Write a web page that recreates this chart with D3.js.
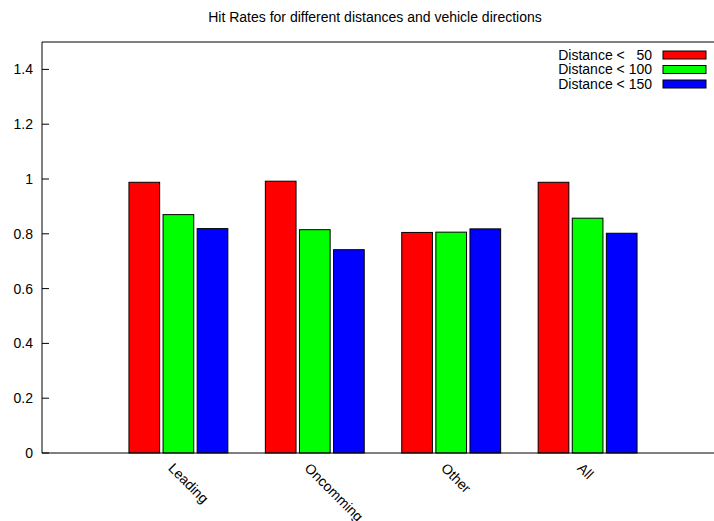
<!DOCTYPE html>
<html>
<head>
<meta charset="utf-8">
<script src="https://cdn.jsdelivr.net/npm/d3@7"></script>
<style>
  html, body { margin: 0; padding: 0; background: #fff; }
  svg { display: block; font-family: "Liberation Sans", Arial, sans-serif; }
</style>
</head>
<body>
<svg id="chart" width="714" height="521"></svg>
<script>
const categories = ["Leading", "Oncomming", "Other", "All"];
const seriesNames = ["Distance <   50", "Distance < 100", "Distance < 150"];
const seriesColors = ["#ff0000", "#00ff00", "#0000ff"];
const dist50 = [0.988, 0.992, 0.805, 0.988];
const dist100 = [0.870, 0.815, 0.806, 0.857];
const dist150 = [0.819, 0.742, 0.818, 0.802];
const yTicks = [0, 0.2, 0.4, 0.6, 0.8, 1, 1.2, 1.4];

const series = [dist50, dist100, dist150];
const fontSize = 14;

const svg = d3.select("#chart");
const margin = { top: 42, left: 42, bottom: 453 };

// histogram x positions: categories at 0..3, axis from -1 to 4 (right edge falls off the canvas)
const x = d3.scaleLinear().domain([-1, 4]).range([margin.left, 724]);
const y = d3.scaleLinear().domain([0, 1.5]).range([margin.bottom, margin.top]);

const barW = 0.225;
const offsets = [-0.25, 0, 0.25];

svg.append("text")
  .attr("x", 375)
  .attr("y", 22)
  .attr("text-anchor", "middle")
  .attr("font-size", fontSize)
  .text("Hit Rates for different distances and vehicle directions");

const g = svg.append("g");
series.forEach((vals, si) => {
  g.append("g")
    .selectAll("rect")
    .data(vals)
    .enter()
    .append("rect")
    .attr("x", (d, i) => x(i + offsets[si] - barW / 2))
    .attr("y", d => y(d))
    .attr("width", x(barW) - x(0))
    .attr("height", d => y(0) - y(d))
    .attr("fill", seriesColors[si])
    .attr("stroke", "#000")
    .attr("stroke-width", 1);
});

// border: left, top, bottom
svg.append("path")
  .attr("d", `M${x(4)},${y(1.5)}H${x(-1)}V${y(0)}H${x(4)}`)
  .attr("fill", "none")
  .attr("stroke", "#000")
  .attr("stroke-width", 1);

const yAxis = svg.append("g").attr("transform", `translate(${margin.left},0)`);
yAxis.selectAll("line")
  .data(yTicks)
  .enter()
  .append("line")
  .attr("x1", 0).attr("x2", 7)
  .attr("y1", d => y(d)).attr("y2", d => y(d))
  .attr("stroke", "#000");
yAxis.selectAll("text")
  .data(yTicks)
  .enter()
  .append("text")
  .attr("x", -9)
  .attr("y", d => y(d))
  .attr("dy", "0.35em")
  .attr("text-anchor", "end")
  .attr("font-size", fontSize)
  .text(d => d3.format("~g")(d));

// rotated category labels; "Oncomming" runs past the bottom edge as in the original
svg.append("g")
  .selectAll("text")
  .data(categories)
  .enter()
  .append("text")
  .attr("transform", (d, i) => `translate(${x(i) - 11},${y(0) + 16}) rotate(45)`)
  .attr("font-size", fontSize)
  .text(d => d);

const legend = svg.append("g");
seriesNames.forEach((name, i) => {
  const ly = 55 + i * 14.5;
  legend.append("text")
    .attr("x", 652)
    .attr("y", ly)
    .attr("dy", "0.35em")
    .attr("text-anchor", "end")
    .attr("font-size", fontSize)
    .style("white-space", "pre")
    .text(name);
  legend.append("rect")
    .attr("x", 663)
    .attr("y", ly - 4)
    .attr("width", 43)
    .attr("height", 8)
    .attr("fill", seriesColors[i])
    .attr("stroke", "#000");
});
</script>
</body>
</html>
